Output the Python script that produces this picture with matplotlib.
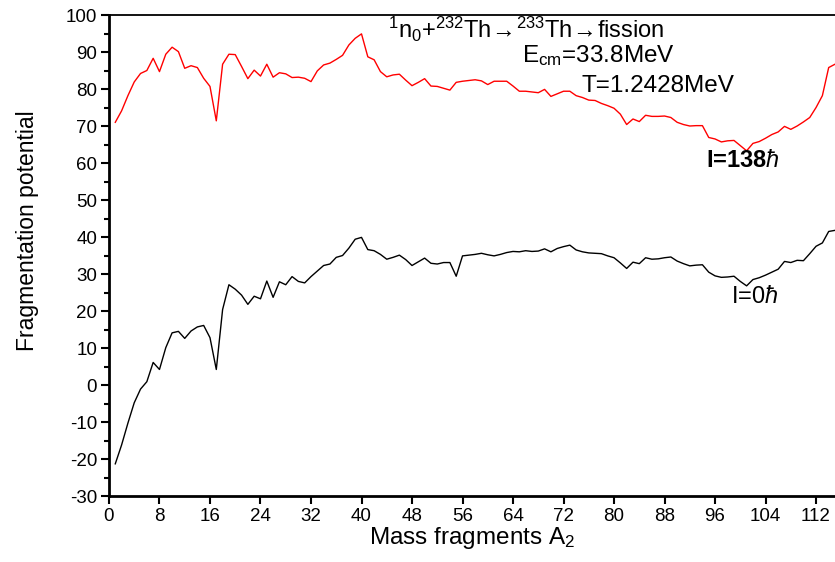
import numpy as np
import matplotlib
matplotlib.use('Agg')
import matplotlib.pyplot as plt
from matplotlib.ticker import MultipleLocator

plt.rcParams['font.family'] = ['Liberation Sans', 'DejaVu Sans']
plt.rcParams['mathtext.fontset'] = 'custom'
plt.rcParams['mathtext.rm'] = 'Liberation Sans'
plt.rcParams['mathtext.it'] = 'Liberation Sans:italic'
plt.rcParams['axes.unicode_minus'] = False

a2 = np.arange(1, 116)

pot_l138 = [71.0, 74.1, 78.2, 81.9, 84.2, 85.0, 88.3, 84.7, 89.4, 91.3,
            90.1, 85.6, 86.3, 85.8, 82.9, 80.7, 71.4, 86.7, 89.4, 89.3,
            86.1, 82.8, 85.1, 83.5, 86.7, 83.2, 84.4, 84.1, 83.1, 83.2,
            82.9, 82.0, 84.9, 86.5, 87.0, 88.0, 89.1, 91.9, 93.7, 94.9,
            88.7, 87.9, 84.7, 83.3, 83.8, 84.0, 82.4, 80.9, 81.8, 82.8,
            80.8, 80.7, 80.2, 79.7, 81.8, 82.1, 82.3, 82.5, 82.2, 81.2,
            82.1, 82.1, 82.1, 80.8, 79.4, 79.4, 79.2, 79.0, 79.9, 78.0,
            78.7, 79.4, 79.4, 78.2, 77.7, 77.0, 76.9, 76.1, 75.5, 74.8,
            73.2, 70.4, 71.9, 71.2, 72.9, 72.6, 72.6, 72.7, 72.3, 71.0,
            70.4, 70.0, 70.1, 70.1, 66.9, 66.5, 65.7, 66.0, 66.1, 64.7,
            63.3, 65.3, 65.8, 66.7, 67.7, 68.4, 69.9, 69.1, 70.0, 71.1,
            72.3, 75.0, 78.2, 85.8, 86.7]

pot_l0 = [-21.3, -16.2, -10.3, -4.8, -1.1, 0.9, 6.1, 4.2, 10.1, 14.1,
          14.5, 12.6, 14.6, 15.7, 16.1, 12.8, 4.2, 20.4, 27.1, 25.9,
          24.3, 21.8, 24.0, 23.3, 28.1, 23.7, 27.9, 27.1, 29.3, 28.0,
          27.6, 29.3, 30.8, 32.3, 32.7, 34.5, 35.0, 37.0, 39.4, 39.9,
          36.6, 36.3, 35.3, 34.0, 34.5, 35.1, 33.9, 32.3, 33.3, 34.3,
          32.9, 32.7, 33.1, 33.1, 29.4, 34.9, 35.1, 35.3, 35.6, 35.2,
          34.9, 35.3, 35.8, 36.1, 36.0, 36.3, 36.1, 36.2, 36.8, 36.0,
          36.9, 37.4, 37.8, 36.5, 36.0, 35.7, 35.6, 35.5, 34.9, 34.4,
          33.0, 31.5, 33.2, 32.8, 34.4, 34.0, 34.1, 34.4, 34.6, 33.5,
          32.8, 32.2, 32.4, 32.5, 30.5, 29.5, 29.1, 29.2, 29.4, 28.0,
          26.8, 28.5, 29.0, 29.7, 30.5, 31.3, 33.4, 33.1, 33.7, 33.6,
          35.5, 37.5, 38.4, 41.5, 41.8]

fig = plt.figure(figsize=(8.35, 5.62), dpi=100)
ax = fig.add_axes([0.1305, 0.1174, 0.8695, 0.8559])

ax.plot(a2, pot_l138, color='red', lw=1.0)
ax.plot(a2, pot_l0, color='black', lw=1.0)

ax.set_xlim(0, 115)
ax.set_ylim(-30, 100)
ax.xaxis.set_major_locator(MultipleLocator(8))
ax.yaxis.set_major_locator(MultipleLocator(10))
ax.yaxis.set_minor_locator(MultipleLocator(5))
ax.tick_params(axis='both', which='major', direction='out', length=5.5, width=1.5,
               labelsize=13.5, pad=3)
ax.tick_params(axis='y', which='minor', direction='out', length=3.5, width=1.5)

for s in ['left', 'bottom']:
    ax.spines[s].set_linewidth(2)
ax.spines['top'].set_linewidth(1.3)
ax.spines['right'].set_visible(False)

ax.set_xlabel('Mass fragments A$_{2}$', fontsize=17.5, labelpad=0)
ax.set_ylabel('Fragmentation potential', fontsize=16.5)
ax.yaxis.set_label_coords(-0.097, 0.551)

arrow = r'$\!\rightarrow\!$'
ax.text(44.2, 93.8, r'$^{1}$n$_{0}$+$^{232}$Th' + arrow + r'$^{233}$Th' + arrow + 'fission',
        fontsize=17)
ax.text(65.5, 87.3, r'E$_{\mathrm{cm}}$=33.8MeV', fontsize=17.5)
ax.text(74.9, 79.3, 'T=1.2428MeV', fontsize=17.5)
ax.text(94.5, 60.6, r'I=138$\hbar$', fontsize=17, fontweight='bold', va='center')
ax.text(98.5, 23.8, r'I=0$\hbar$', fontsize=17, va='center')

fig.savefig('out.png', dpi=100)
